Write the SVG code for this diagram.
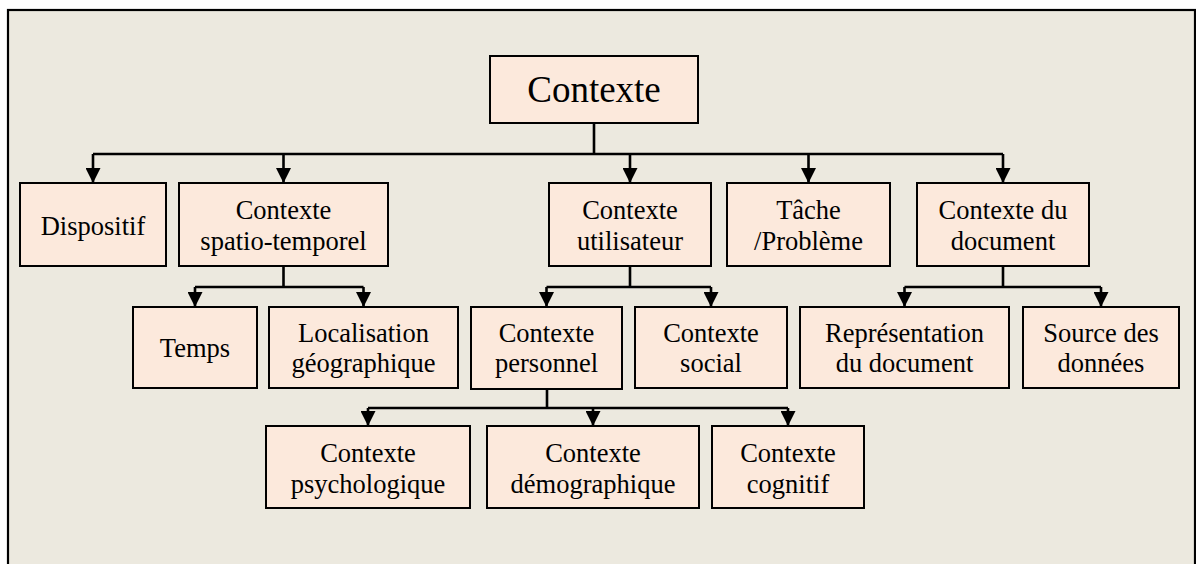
<svg xmlns="http://www.w3.org/2000/svg" width="1196" height="564" viewBox="0 0 1196 564">
  <style>
    .frame { fill: #ECE9DF; stroke: #000; stroke-width: 2.2; }
    .box { fill: #FCE9DC; stroke: #000; stroke-width: 2; }
    .wire { fill: none; stroke: #000; stroke-width: 2.6; }
    .lbl { font-family: "Liberation Serif", "Times New Roman", serif; font-size: 26.5px; fill: #000; text-anchor: middle; }
    .root { font-size: 37px; }
  </style>
  <defs>
    <marker id="head" viewBox="0 0 15 15" markerWidth="15" markerHeight="15" markerUnits="userSpaceOnUse" refX="15" refY="7.5" orient="auto">
      <path d="M0,0 L15,7.5 L0,15 z" fill="#000"/>
    </marker>
  </defs>

  <rect class="frame" x="8" y="10" width="1187" height="600"/>

  <!-- connectors -->
  <g id="connectors">
    <!-- Contexte -> level 1 -->
    <path class="wire" d="M594,123 V154 M93,154 H1003"/>
    <path class="wire" marker-end="url(#head)" d="M93,154 V183"/>
    <path class="wire" marker-end="url(#head)" d="M283.5,154 V183"/>
    <path class="wire" marker-end="url(#head)" d="M630,154 V183"/>
    <path class="wire" marker-end="url(#head)" d="M808.5,154 V183"/>
    <path class="wire" marker-end="url(#head)" d="M1003,154 V183"/>
    <!-- spatio-temporel -> level 2 -->
    <path class="wire" d="M283.5,266 V287 M195,287 H363.5"/>
    <path class="wire" marker-end="url(#head)" d="M195,287 V307"/>
    <path class="wire" marker-end="url(#head)" d="M363.5,287 V307"/>
    <!-- utilisateur -> level 2 -->
    <path class="wire" d="M630,266 V287 M546.5,287 H711"/>
    <path class="wire" marker-end="url(#head)" d="M546.5,287 V307"/>
    <path class="wire" marker-end="url(#head)" d="M711,287 V307"/>
    <!-- document -> level 2 -->
    <path class="wire" d="M1003,266 V287 M904.5,287 H1101"/>
    <path class="wire" marker-end="url(#head)" d="M904.5,287 V307"/>
    <path class="wire" marker-end="url(#head)" d="M1101,287 V307"/>
    <!-- personnel -> level 3 -->
    <path class="wire" d="M547,389 V408 M368,408 H788"/>
    <path class="wire" marker-end="url(#head)" d="M368,408 V426"/>
    <path class="wire" marker-end="url(#head)" d="M593,408 V426"/>
    <path class="wire" marker-end="url(#head)" d="M788,408 V426"/>
  </g>

  <!-- root -->
  <g id="n-contexte">
    <rect class="box" x="490" y="56" width="208" height="67"/>
    <text class="lbl root" x="594" y="101.5">Contexte</text>
  </g>

  <!-- level 1 -->
  <g id="n-dispositif">
    <rect class="box" x="20" y="183" width="146" height="83"/>
    <text class="lbl" x="93" y="235">Dispositif</text>
  </g>
  <g id="n-spatio">
    <rect class="box" x="179" y="183" width="209" height="83"/>
    <text class="lbl" x="283.5" y="218.5">Contexte</text>
    <text class="lbl" x="283.5" y="250">spatio-temporel</text>
  </g>
  <g id="n-utilisateur">
    <rect class="box" x="549" y="183" width="162" height="83"/>
    <text class="lbl" x="630" y="218.5">Contexte</text>
    <text class="lbl" x="630" y="250">utilisateur</text>
  </g>
  <g id="n-tache">
    <rect class="box" x="727" y="183" width="163" height="83"/>
    <text class="lbl" x="808.5" y="218.5">Tâche</text>
    <text class="lbl" x="808.5" y="250">/Problème</text>
  </g>
  <g id="n-document">
    <rect class="box" x="917" y="183" width="172" height="83"/>
    <text class="lbl" x="1003" y="218.5">Contexte du</text>
    <text class="lbl" x="1003" y="250">document</text>
  </g>

  <!-- level 2 -->
  <g id="n-temps">
    <rect class="box" x="133" y="307" width="124" height="81"/>
    <text class="lbl" x="195" y="356.5">Temps</text>
  </g>
  <g id="n-localisation">
    <rect class="box" x="269" y="307" width="189" height="81"/>
    <text class="lbl" x="363.5" y="341.5">Localisation</text>
    <text class="lbl" x="363.5" y="372">géographique</text>
  </g>
  <g id="n-personnel">
    <rect class="box" x="471" y="307" width="151" height="82"/>
    <text class="lbl" x="546.5" y="341.5">Contexte</text>
    <text class="lbl" x="546.5" y="372">personnel</text>
  </g>
  <g id="n-social">
    <rect class="box" x="635" y="307" width="152" height="81"/>
    <text class="lbl" x="711" y="341.5">Contexte</text>
    <text class="lbl" x="711" y="372">social</text>
  </g>
  <g id="n-representation">
    <rect class="box" x="800" y="307" width="209" height="81"/>
    <text class="lbl" x="904.5" y="341.5">Représentation</text>
    <text class="lbl" x="904.5" y="372">du document</text>
  </g>
  <g id="n-source">
    <rect class="box" x="1023" y="307" width="156" height="81"/>
    <text class="lbl" x="1101" y="341.5">Source des</text>
    <text class="lbl" x="1101" y="372">données</text>
  </g>

  <!-- level 3 -->
  <g id="n-psychologique">
    <rect class="box" x="266" y="426" width="204" height="82"/>
    <text class="lbl" x="368" y="461.5">Contexte</text>
    <text class="lbl" x="368" y="492.5">psychologique</text>
  </g>
  <g id="n-demographique">
    <rect class="box" x="487" y="426" width="212" height="82"/>
    <text class="lbl" x="593" y="461.5">Contexte</text>
    <text class="lbl" x="593" y="492.5">démographique</text>
  </g>
  <g id="n-cognitif">
    <rect class="box" x="712" y="426" width="152" height="82"/>
    <text class="lbl" x="788" y="461.5">Contexte</text>
    <text class="lbl" x="788" y="492.5">cognitif</text>
  </g>
</svg>
